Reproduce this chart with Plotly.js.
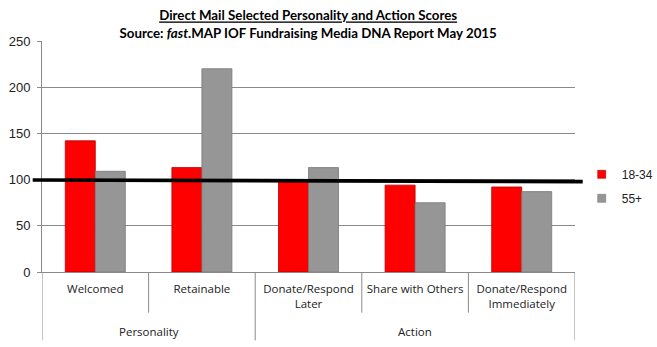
<!DOCTYPE html>
<html>
<head>
<meta charset="utf-8">
<script src="https://cdn.plot.ly/plotly-3.0.1.min.js"></script>
<style>html,body{margin:0;padding:0;background:#fff;}#chart{width:657px;height:347px;}</style>
</head>
<body>
<div id="chart"></div>
<script>
// ---- data ----
const categories = ['Welcomed', 'Retainable', 'Donate/Respond<br>Later', 'Share with Others', 'Donate/Respond<br>Immediately'];
const groups = ['Personality', 'Personality', 'Action', 'Action', 'Action'];
const seriesNames = ['18-34', '55+'];
const young = [142, 113, 98, 94, 92];
const older = [109, 220, 113, 75, 87];
const benchmark = [99.6, 97.8]; // hand-drawn reference line (start, end)
const yTicks = [0, 50, 100, 150, 200, 250];

// ---- styles ----
const red = '#ff0000', redEdge = '#b80000';
const grey = '#969696', greyEdge = '#787878';
const lineGrey = '#8a8a8a';
const catFont = {family: '"Open Sans", sans-serif', size: 11.5, color: '#222'};

const idx = categories.map((c, i) => i);

const traces = [
  {type: 'bar', x: idx, y: young, name: seriesNames[0], showlegend: false,
   marker: {color: red, line: {color: redEdge, width: 0.8}}, hoverinfo: 'y'},
  {type: 'bar', x: idx, y: older, name: seriesNames[1], showlegend: false,
   marker: {color: grey, line: {color: greyEdge, width: 0.8}}, hoverinfo: 'y'},
  // legend swatches
  {type: 'scatter', mode: 'markers', x: [null], y: [null], name: seriesNames[0], legendgroup: 'a',
   marker: {symbol: 'square', size: 8, color: red, line: {color: redEdge, width: 0.6}}},
  {type: 'scatter', mode: 'markers', x: [null], y: [null], name: seriesNames[1], legendgroup: 'b',
   marker: {symbol: 'square', size: 8, color: grey, line: {color: greyEdge, width: 0.6}}}
];

// separators & group dividers
const shapes = [];
const n = categories.length;
const uniqueGroups = [];
groups.forEach(g => { if (uniqueGroups.indexOf(g) < 0) uniqueGroups.push(g); });
const longDrop = -0.296, shortDrop = -0.176;
shapes.push({type: 'line', xref: 'x', yref: 'paper', x0: -0.5, x1: -0.5, y0: 0, y1: longDrop, line: {color: lineGrey, width: 1}});
for (let i = 0; i < n - 1; i++) {
  const same = groups[i] === groups[i + 1];
  shapes.push({type: 'line', xref: 'x', yref: 'paper', x0: i + 0.5, x1: i + 0.5, y0: 0, y1: same ? shortDrop : longDrop, line: {color: lineGrey, width: 1}});
}
shapes.push({type: 'line', xref: 'x', yref: 'paper', x0: n - 0.5, x1: n - 0.5, y0: 0, y1: longDrop, line: {color: lineGrey, width: 1}});
// benchmark line
shapes.push({type: 'line', xref: 'paper', yref: 'y', x0: -0.0175, x1: 1.0144, y0: benchmark[0], y1: benchmark[1], line: {color: '#000', width: 3.6}, layer: 'above'});

// group labels
const annotations = uniqueGroups.map(g => {
  const members = idx.filter(i => groups[i] === g);
  const center = (members[0] + members[members.length - 1]) / 2;
  return {text: g, xref: 'x', yref: 'paper', x: center, y: -0.257, yanchor: 'middle', showarrow: false, font: catFont};
});

const layout = {
  width: 657, height: 347,
  margin: {l: 42.3, r: 81.7, t: 41, b: 74.7, pad: 0, autoexpand: false},
  paper_bgcolor: '#fff', plot_bgcolor: '#fff',
  bargap: 0.437, bargroupgap: 0,
  barmode: 'group',
  title: {
    text: '<u>Direct Mail Selected Personality and Action Scores</u><br>Source: <i>fast</i>.MAP IOF Fundraising Media DNA Report May 2015',
    font: {family: 'Lato, sans-serif', size: 13.3, color: '#000', weight: 'bold'},
    xref: 'container', yref: 'container', x: 0.469, xanchor: 'center', y: 0.941, yanchor: 'top'
  },
  xaxis: {
    type: 'linear', range: [-0.5, n - 0.5],
    tickmode: 'array', tickvals: idx, ticktext: categories,
    tickfont: catFont, ticks: '', showgrid: false, zeroline: false,
    showline: true, linecolor: lineGrey, linewidth: 1,
    ticklabelstandoff: 6, fixedrange: true
  },
  yaxis: {
    range: [0, 250], tickmode: 'array', tickvals: yTicks,
    tickfont: {family: '"Liberation Sans", Arial, sans-serif', size: 13, color: '#222'},
    ticks: 'outside', ticklen: 4, tickcolor: lineGrey,
    showgrid: true, gridcolor: lineGrey, gridwidth: 1, zeroline: false,
    showline: true, linecolor: lineGrey, linewidth: 1,
    ticklabelstandoff: 4, fixedrange: true
  },
  showlegend: true,
  legend: {
    x: 1.0126, xanchor: 'left', y: 0.371, yanchor: 'middle',
    traceorder: 'grouped', tracegroupgap: 5,
    font: {family: '"Liberation Sans", Arial, sans-serif', size: 12, color: '#222'},
    bgcolor: 'rgba(0,0,0,0)', itemwidth: 30
  },
  shapes: shapes,
  annotations: annotations
};

Plotly.newPlot('chart', traces, layout, {displayModeBar: false, staticPlot: true});
</script>
</body>
</html>
